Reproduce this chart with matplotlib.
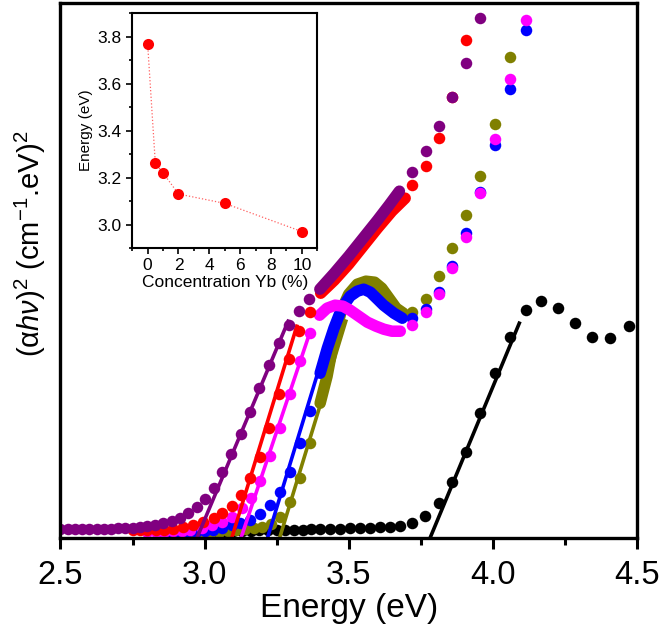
import matplotlib
matplotlib.use("Agg")
import matplotlib.pyplot as plt
from matplotlib.ticker import MultipleLocator, NullLocator, FormatStrFormatter

plt.rcParams['font.family'] = ['Liberation Sans', 'DejaVu Sans']
plt.rcParams['mathtext.fontset'] = 'custom'
plt.rcParams['mathtext.rm'] = 'Liberation Sans'
plt.rcParams['mathtext.it'] = 'Liberation Sans:italic'

# ---- main panel: (alpha h nu)^2 vs photon energy, arbitrary units ----
# 0 % Yb (black)
black_E = [2.95, 2.98, 3.01, 3.04, 3.07, 3.10, 3.13, 3.16, 3.19, 3.22, 3.25, 3.28, 3.31,
           3.34, 3.37, 3.40, 3.435, 3.47, 3.505, 3.54, 3.575, 3.61, 3.645, 3.678, 3.719,
           3.765, 3.813, 3.858, 3.907, 3.957, 4.009, 4.061, 4.114, 4.169, 4.225, 4.285,
           4.345, 4.406, 4.473]
black_A = [7, 7, 7, 7, 7, 7, 7.5, 7.5, 8, 8, 8, 8, 8.5, 8.5, 9, 9, 9, 9.5, 10, 10, 10.5,
           11, 11.5, 12, 15, 22, 35, 56, 86, 125, 165, 201, 228, 237, 230, 215, 201, 200, 212]
black_dense_E = []
black_dense_A = []
black_fit = ([3.782, 4.092], [0, 215])

# 0.5 % Yb (olive)
olive_E = [2.90, 2.93, 2.96, 2.99, 3.02, 3.05, 3.08, 3.11, 3.14, 3.17, 3.20, 3.231, 3.262,
           3.297, 3.332, 3.366, 3.721, 3.767, 3.813, 3.858, 3.906, 3.957, 4.008, 4.061]
olive_A = [4, 4, 5, 5, 5.5, 6, 7, 8, 9, 10, 11, 14, 21, 36, 60, 95,
           226, 239, 262, 290, 323, 362, 414, 481]
olive_dense_E = [3.401, 3.425, 3.45, 3.475, 3.50, 3.53, 3.56, 3.59, 3.615, 3.64, 3.665, 3.69]
olive_dense_A = [135, 162, 200, 228, 244, 254, 257, 256, 250, 240, 230, 225]
olive_fit = ([3.26, 3.49], [0, 217])

# 1 % Yb (blue)
blue_E = [2.85, 2.88, 2.91, 2.94, 2.97, 3.00, 3.03, 3.06, 3.094, 3.123, 3.158, 3.193, 3.227,
          3.262, 3.297, 3.332, 3.366, 3.721, 3.767, 3.813, 3.858, 3.906, 3.957, 4.008,
          4.061, 4.115]
blue_A = [5, 5, 6, 6, 6.5, 7, 8, 10, 13, 15, 18, 24, 33, 46, 66, 95, 127,
          220, 229, 246, 272, 305, 346, 393, 449, 508]
blue_dense_E = [3.401, 3.426, 3.449, 3.476, 3.505, 3.53, 3.552, 3.575, 3.60, 3.621, 3.657, 3.686]
blue_dense_A = [165, 190, 210, 230, 242, 247, 249, 246, 239, 233, 225, 220]
blue_fit = ([3.218, 3.44], [0, 210])

# 2 % Yb (magenta)
mag_E = [2.80, 2.83, 2.86, 2.89, 2.92, 2.95, 2.99, 3.025, 3.060, 3.094, 3.129, 3.162, 3.193,
         3.227, 3.262, 3.297, 3.332, 3.366, 3.721, 3.767, 3.813, 3.858, 3.906, 3.957,
         4.008, 4.061, 4.115]
mag_A = [6, 6, 6, 7, 7, 8, 10, 13, 16, 21, 30, 40, 57, 82, 110, 144, 177, 205,
         213, 226, 244, 270, 301, 345, 399, 459, 518]
mag_dense_E = [3.399, 3.425, 3.453, 3.48, 3.505, 3.535, 3.565, 3.595, 3.622, 3.65, 3.679]
mag_dense_A = [223, 230, 233, 232, 228, 222, 216, 212, 209, 207, 207]
mag_fit = ([3.126, 3.368], [0, 208])

# 5 % Yb (red)
red_E = [2.75, 2.775, 2.80, 2.83, 2.86, 2.892, 2.926, 2.961, 2.996, 3.031, 3.060, 3.094,
         3.126, 3.159, 3.192, 3.224, 3.259, 3.294, 3.329, 3.366, 3.721, 3.767, 3.812,
         3.858, 3.908]
red_A = [8, 8, 8, 8, 8.5, 9, 11, 13, 16, 20, 25, 32, 43, 60, 81, 110, 144, 179, 207, 226,
         353, 372, 400, 441, 498]
red_dense_E = [3.403, 3.45, 3.50, 3.55, 3.60, 3.65, 3.696]
red_dense_A = [245, 258, 274, 292, 310, 327, 340]
red_fit = ([3.094, 3.32], [0, 212])

# 10 % Yb (purple)
pur_E = [2.50, 2.525, 2.55, 2.575, 2.60, 2.625, 2.65, 2.675, 2.70, 2.725, 2.75, 2.775, 2.80,
         2.828, 2.857, 2.886, 2.915, 2.944, 2.973, 3.001, 3.031, 3.060, 3.092, 3.125,
         3.158, 3.190, 3.224, 3.259, 3.294, 3.329, 3.364, 3.721, 3.767, 3.812, 3.858,
         3.908, 3.957]
pur_A = [9, 9, 9, 9, 9, 9, 9, 9.5, 10, 10, 10.5, 11, 12, 13, 15, 17, 20, 25, 31, 39, 50,
         66, 84, 104, 126, 150, 173, 195, 213, 227, 239, 366, 387, 412, 441, 475, 520]
pur_dense_E = [3.40, 3.45, 3.50, 3.55, 3.60, 3.64, 3.676]
pur_dense_A = [249, 265, 282, 300, 318, 333, 347]
pur_fit = ([2.973, 3.29], [0, 217])

# ---- inset: band gap vs Yb concentration ----
conc = [0, 0.5, 1, 2, 5, 10]
gap = [3.77, 3.26, 3.22, 3.13, 3.09, 2.97]

series = [
    ('black', black_E, black_A, black_dense_E, black_dense_A, black_fit),
    ('#808000', olive_E, olive_A, olive_dense_E, olive_dense_A, olive_fit),
    ('#0000ff', blue_E, blue_A, blue_dense_E, blue_dense_A, blue_fit),
    ('#ff00ff', mag_E, mag_A, mag_dense_E, mag_dense_A, mag_fit),
    ('#ff0000', red_E, red_A, red_dense_E, red_dense_A, red_fit),
    ('#800080', pur_E, pur_A, pur_dense_E, pur_dense_A, pur_fit),
]

fig = plt.figure(figsize=(6.61, 6.31), dpi=100)
ax = fig.add_axes([0.0915, 0.147, 0.872, 0.848])

ms = 8.3
for col, E, A, dE, dA, fit in series:
    ax.plot(E, A, 'o', color=col, ms=ms, mew=0)
    if dE:
        # densely sampled stretch: markers merge into a solid band
        ax.plot(dE, dA, '-', color=col, lw=ms, solid_capstyle='round',
                solid_joinstyle='round')
    ax.plot(fit[0], fit[1], '-', color=col, lw=2.6)

ax.set_xlim(2.5, 4.5)
ax.set_ylim(0, 535)
ax.xaxis.set_major_locator(MultipleLocator(0.5))
ax.xaxis.set_minor_locator(MultipleLocator(0.25))
ax.yaxis.set_major_locator(NullLocator())
ax.tick_params(axis='x', which='major', direction='out', length=8, width=2.2,
               labelsize=23.5, pad=8)
ax.tick_params(axis='x', which='minor', direction='out', length=5, width=2.2)
for s in ax.spines.values():
    s.set_linewidth(2.4)
ax.set_xlabel('Energy (eV)', fontsize=24, labelpad=1)
ax.set_ylabel(r'$(\mathrm{\alpha}h\nu)^2$ (cm$^{-1}$.eV)$^2$', fontsize=21)
ax.yaxis.set_label_coords(-0.021, 0.55)

ins = fig.add_axes([0.2, 0.607, 0.28, 0.372])
ins.plot(conc, gap, ':', color='#ff6060', lw=0.9)
ins.plot(conc, gap, 'o', color='#ff0000', ms=8, mew=0)
ins.set_xlim(-1, 11)
ins.set_ylim(2.9, 3.9)
ins.xaxis.set_major_locator(MultipleLocator(2))
ins.xaxis.set_minor_locator(MultipleLocator(1))
ins.yaxis.set_major_locator(MultipleLocator(0.2))
ins.yaxis.set_minor_locator(MultipleLocator(0.1))
ins.yaxis.set_major_formatter(FormatStrFormatter('%.1f'))
ins.tick_params(which='major', direction='out', length=4, width=1.2, labelsize=12.5)
ins.tick_params(which='minor', direction='out', length=2.5, width=1.2)
for s in ins.spines.values():
    s.set_linewidth(1.5)
ins.set_xlabel('Concentration Yb (%)', fontsize=12.5, labelpad=1)
ins.set_ylabel('Energy (eV)', fontsize=11, labelpad=3)

fig.savefig('out.png', dpi=100)
